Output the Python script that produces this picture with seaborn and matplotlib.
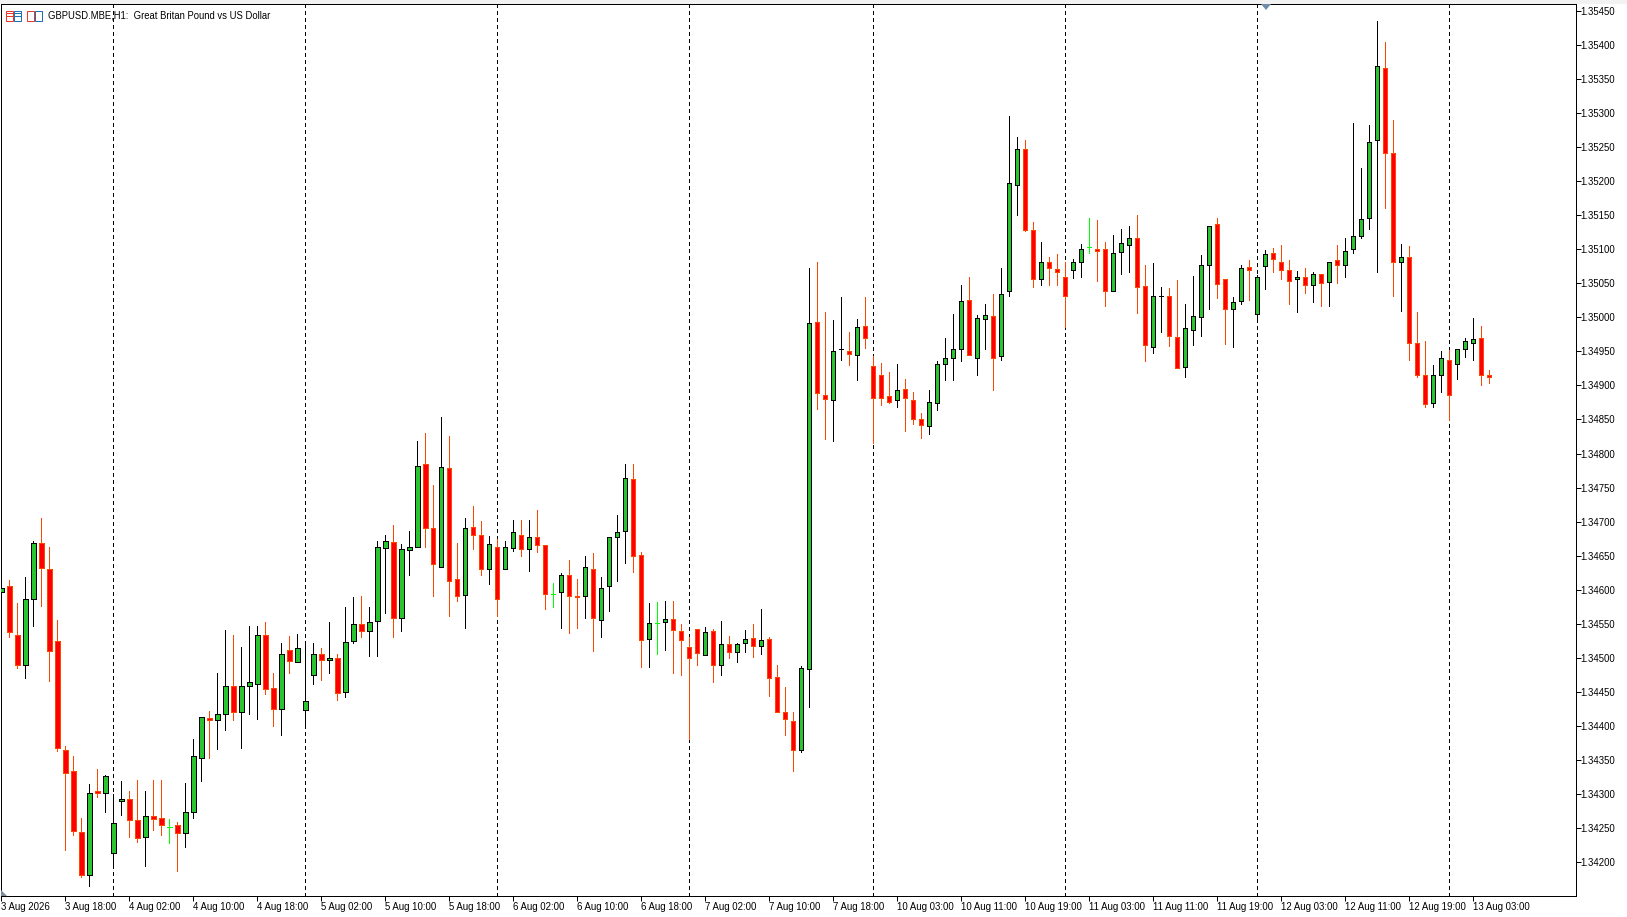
import numpy as np
import pandas as pd
import matplotlib
matplotlib.use('Agg')
import matplotlib.pyplot as plt
from matplotlib.patches import Rectangle, Polygon
import seaborn as sns

# GBPUSD H1 candles
opens = [
 1.34596,1.34605,1.34533,1.34489,1.34586,1.34668,1.34631,1.34524,1.34365,1.34333,
 1.34244,1.34181,1.34304,1.34301,1.34213,1.34289,1.34293,1.34261,1.34236,1.34267,
 1.34264,1.34252,1.34254,1.34242,1.34273,1.34352,1.34412,1.34408,1.34418,1.34458,
 1.34421,1.34458,1.34461,1.34533,1.34455,1.34424,1.34512,1.34493,1.34423,1.34474,
 1.34505,1.34496,1.34499,1.34449,1.34524,1.34549,1.34539,1.34554,1.34661,1.34670,
 1.34558,1.34658,1.34662,1.34784,1.34690,1.34634,1.34778,1.34615,1.34592,1.34692,
 1.34681,1.34630,1.34662,1.34631,1.34661,1.34681,1.34659,1.34678,1.34665,1.34593,
 1.34596,1.34621,1.34590,1.34590,1.34631,1.34555,1.34605,1.34678,1.34686,1.34763,
 1.34651,1.34527,1.34551,1.34552,1.34557,1.34539,1.34516,1.34542,1.34504,1.34539,
 1.34489,1.34520,1.34508,1.34522,1.34529,1.34517,1.34527,1.34472,1.34420,1.34407,
 1.34365,1.34483,1.34993,1.34886,1.34878,1.34953,1.34951,1.34944,1.34988,1.34928,
 1.34916,1.34884,1.34878,1.34895,1.34879,1.34850,1.34841,1.34874,1.34931,1.34940,
 1.34953,1.35025,1.34941,1.34997,1.35002,1.34943,1.35038,1.35195,1.35248,1.35129,
 1.35057,1.35082,1.35071,1.35059,1.35069,1.35082,1.35103,1.35101,1.35100,1.35038,
 1.35096,1.35107,1.35116,1.35046,1.34956,1.35031,1.35032,1.34971,1.34927,1.34982,
 1.35000,1.35077,1.35137,1.35057,1.35013,1.35024,1.35074,1.35005,1.35075,1.35094,
 1.35082,1.35069,1.35056,1.35059,1.35047,1.35063,1.35052,1.35084,1.35077,1.35100,
 1.35119,1.35146,1.35260,1.35367,1.35241,1.35082,1.35088,1.34963,1.34916,1.34874,
 1.34915,1.34937,1.34931,1.34953,1.34963,1.34969,1.34916]
closes = [
 1.34603,1.34538,1.34490,1.34587,1.34668,1.34632,1.34510,1.34367,1.34330,1.34245,
 1.34181,1.34302,1.34302,1.34326,1.34257,1.34292,1.34261,1.34235,1.34268,1.34263,
 1.34254,1.34252,1.34242,1.34274,1.34355,1.34413,1.34408,1.34417,1.34458,1.34420,
 1.34459,1.34464,1.34533,1.34454,1.34424,1.34505,1.34495,1.34515,1.34436,1.34505,
 1.34496,1.34499,1.34448,1.34523,1.34549,1.34540,1.34552,1.34662,1.34671,1.34558,
 1.34659,1.34662,1.34781,1.34690,1.34637,1.34780,1.34612,1.34590,1.34690,1.34681,
 1.34631,1.34667,1.34586,1.34662,1.34684,1.34659,1.34678,1.34665,1.34593,1.34593,
 1.34621,1.34590,1.34589,1.34634,1.34558,1.34603,1.34677,1.34684,1.34764,1.34649,
 1.34526,1.34551,1.34551,1.34557,1.34541,1.34526,1.34500,1.34507,1.34538,1.34489,
 1.34520,1.34509,1.34520,1.34527,1.34517,1.34526,1.34470,1.34420,1.34410,1.34364,
 1.34485,1.34991,1.34889,1.34880,1.34951,1.34954,1.34946,1.34986,1.34969,1.34881,
 1.34882,1.34876,1.34894,1.34881,1.34851,1.34842,1.34875,1.34931,1.34941,1.34953,
 1.35024,1.34944,1.34999,1.35003,1.34940,1.35035,1.35198,1.35248,1.35129,1.35057,
 1.35081,1.35072,1.35066,1.35032,1.35082,1.35100,1.35103,1.35098,1.35038,1.35094,
 1.35109,1.35116,1.35044,1.34959,1.35032,1.35032,1.34972,1.34925,1.34984,1.35002,
 1.35077,1.35134,1.35049,1.35013,1.35022,1.35072,1.35069,1.35060,1.35093,1.35085,
 1.35069,1.35054,1.35060,1.35047,1.35063,1.35050,1.35081,1.35077,1.35098,1.35120,
 1.35144,1.35257,1.35369,1.35242,1.35082,1.35088,1.34963,1.34916,1.34872,1.34916,
 1.34941,1.34886,1.34953,1.34965,1.34968,1.34915,1.34913]
highs = [
 1.34603,1.34614,1.34580,1.34619,1.34671,1.34705,1.34663,1.34555,1.34370,1.34356,
 1.34265,1.34315,1.34337,1.34328,1.34300,1.34319,1.34304,1.34320,1.34304,1.34320,
 1.34320,1.34263,1.34259,1.34316,1.34381,1.34413,1.34422,1.34478,1.34541,1.34533,
 1.34516,1.34547,1.34547,1.34552,1.34478,1.34522,1.34532,1.34535,1.34518,1.34522,
 1.34514,1.34553,1.34506,1.34575,1.34589,1.34591,1.34575,1.34672,1.34681,1.34695,
 1.34667,1.34686,1.34818,1.34830,1.34754,1.34854,1.34826,1.34669,1.34705,1.34723,
 1.34701,1.34679,1.34675,1.34672,1.34702,1.34702,1.34702,1.34717,1.34665,1.34610,
 1.34625,1.34644,1.34616,1.34650,1.34654,1.34619,1.34677,1.34710,1.34784,1.34784,
 1.34656,1.34580,1.34582,1.34584,1.34584,1.34549,1.34530,1.34542,1.34545,1.34542,
 1.34554,1.34532,1.34522,1.34541,1.34550,1.34571,1.34530,1.34490,1.34457,1.34421,
 1.34488,1.35073,1.35081,1.35008,1.34996,1.35030,1.34978,1.34997,1.35030,1.34943,
 1.34933,1.34919,1.34931,1.34909,1.34891,1.34860,1.34893,1.34936,1.34970,1.35005,
 1.35048,1.35059,1.35003,1.35020,1.35034,1.35073,1.35296,1.35265,1.35261,1.35140,
 1.35111,1.35089,1.35093,1.35081,1.35086,1.35108,1.35146,1.35143,1.35111,1.35121,
 1.35130,1.35134,1.35150,1.35077,1.35080,1.35045,1.35043,1.35055,1.35020,1.35061,
 1.35092,1.35134,1.35146,1.35057,1.35030,1.35077,1.35084,1.35062,1.35099,1.35102,
 1.35106,1.35084,1.35068,1.35073,1.35067,1.35063,1.35082,1.35106,1.35117,1.35286,
 1.35219,1.35283,1.35435,1.35405,1.35290,1.35108,1.35105,1.35008,1.34965,1.34930,
 1.34951,1.34952,1.34953,1.34970,1.34999,1.34987,1.34923]
lows = [
 1.34596,1.34531,1.34485,1.34470,1.34546,1.34576,1.34466,1.34363,1.34217,1.34240,
 1.34178,1.34164,1.34296,1.34274,1.34196,1.34269,1.34236,1.34230,1.34194,1.34247,
 1.34240,1.34228,1.34186,1.34222,1.34264,1.34319,1.34352,1.34366,1.34394,1.34408,
 1.34368,1.34418,1.34410,1.34447,1.34400,1.34387,1.34478,1.34493,1.34397,1.34462,
 1.34468,1.34478,1.34438,1.34443,1.34521,1.34530,1.34503,1.34502,1.34565,1.34530,
 1.34540,1.34621,1.34662,1.34662,1.34590,1.34634,1.34562,1.34584,1.34543,1.34659,
 1.34621,1.34609,1.34561,1.34631,1.34657,1.34649,1.34628,1.34656,1.34572,1.34575,
 1.34543,1.34537,1.34543,1.34559,1.34510,1.34531,1.34569,1.34612,1.34639,1.34626,
 1.34486,1.34486,1.34505,1.34512,1.34477,1.34475,1.34380,1.34489,1.34504,1.34465,
 1.34475,1.34499,1.34494,1.34509,1.34501,1.34506,1.34444,1.34420,1.34386,1.34333,
 1.34362,1.34428,1.34866,1.34821,1.34818,1.34937,1.34930,1.34908,1.34955,1.34816,
 1.34871,1.34874,1.34868,1.34833,1.34843,1.34823,1.34828,1.34864,1.34908,1.34908,
 1.34936,1.34944,1.34916,1.34953,1.34894,1.34938,1.35032,1.35151,1.35127,1.35044,
 1.35048,1.35047,1.35047,1.34986,1.35058,1.35060,1.35095,1.35054,1.35017,1.35038,
 1.35063,1.35066,1.35007,1.34936,1.34947,1.34979,1.34958,1.34925,1.34913,1.34960,
 1.34972,1.35013,1.35029,1.34961,1.34956,1.35019,1.35025,1.34999,1.35041,1.35067,
 1.35057,1.35019,1.35008,1.35036,1.35023,1.35016,1.35016,1.35050,1.35060,1.35094,
 1.35116,1.35130,1.35066,1.35161,1.35032,1.35010,1.34938,1.34913,1.34869,1.34869,
 1.34891,1.34849,1.34909,1.34942,1.34938,1.34900,1.34904]

time_labels = ['3 Aug 2026', '3 Aug 18:00', '4 Aug 02:00', '4 Aug 10:00', '4 Aug 18:00',
               '5 Aug 02:00', '5 Aug 10:00', '5 Aug 18:00', '6 Aug 02:00', '6 Aug 10:00',
               '6 Aug 18:00', '7 Aug 02:00', '7 Aug 10:00', '7 Aug 18:00', '10 Aug 03:00',
               '10 Aug 11:00', '10 Aug 19:00', '11 Aug 03:00', '11 Aug 11:00', '11 Aug 19:00',
               '12 Aug 03:00', '12 Aug 11:00', '12 Aug 19:00', '13 Aug 03:00']
price_ticks = [1.342, 1.3425, 1.343, 1.3435, 1.344, 1.3445, 1.345, 1.3455, 1.346, 1.3465, 1.347,
               1.3475, 1.348, 1.3485, 1.349, 1.3495, 1.35, 1.3505, 1.351, 1.3515, 1.352, 1.3525,
               1.353, 1.3535, 1.354, 1.3545]
day_starts = [14, 38, 62, 86, 109, 133, 157, 181]   # bar number of each midnight
title = 'GBPUSD.MBE,H1:  Great Britan Pound vs US Dollar'

df = pd.DataFrame({'open': opens, 'high': highs, 'low': lows, 'close': closes})
df['bar'] = df.index
df['side'] = np.where(df['close'] > df['open'], 'up', np.where(df['close'] < df['open'], 'down', 'flat'))

sns.set_style('white')
plt.rcParams['font.family'] = ['Liberation Sans']
plt.rcParams['font.size'] = 6.9

fig = plt.figure(figsize=(16.27, 9.17), dpi=100)
fig.patch.set_facecolor('white')
W, H = 1627, 917
ax = fig.add_axes([1 / W, (H - 896) / H, (1575.5 - 1) / W, (896 - 4) / H])
fig.add_artist(Rectangle((0, (H - 4) / H), 1, 4 / H, transform=fig.transFigure, color='#F2F2F2', lw=0))

wick_colors = {'up': 'black', 'down': '#FF4500', 'flat': '#00FF00'}
fill_colors = {'up': '#2BC431', 'down': '#FF0000', 'flat': '#00FF00'}

# wicks, one line per bar
wicks = df.melt(id_vars=['bar', 'side'], value_vars=['high', 'low'], value_name='price')
sns.lineplot(data=wicks, x='bar', y='price', units='bar', hue='side', palette=wick_colors,
             estimator=None, sort=False, legend=False, lw=0.72, antialiased=False,
             solid_capstyle='butt', zorder=2, ax=ax)

# bodies
ax.bar(df['bar'], df['close'] - df['open'], bottom=df['open'], width=0.56,
       color=df['side'].map(fill_colors), edgecolor=df['side'].map(wick_colors),
       linewidth=0.72, antialiased=False, zorder=3)

for d in day_starts:
    ax.axvline(d, color='black', lw=0.72, ls=(0, (3, 3)), antialiased=False, zorder=1)

ax.set_xlim(-0.04, 196.8)
ax.set_ylim(1.3415, 1.354603)
ax.set_xlabel('')
ax.set_ylabel('')

ax.yaxis.tick_right()
ax.set_yticks(price_ticks)
ax.set_yticklabels(['%.5f' % p for p in price_ticks])
ax.set_xticks(np.arange(len(time_labels)) * 8)
ax.set_xticklabels(time_labels, ha='left')
ax.tick_params(axis='x', length=3.4, width=0.72, color='black', labelcolor='black',
               labelsize=6.9, pad=1.1, bottom=True)
ax.tick_params(axis='y', length=3.4, width=0.72, color='black', labelcolor='black',
               labelsize=6.9, pad=0.2, right=True, left=False)
for s in ax.spines.values():
    s.set_visible(True)
    s.set_color('black')
    s.set_linewidth(0.72)

fig.text(48 / W, 1 - 16 / H, title, fontsize=6.85, color='black', va='center', ha='left')

# the two little icons before the title
for x0, c in [(6, '#E8392B'), (14, '#1F6FB5'), (27, '#E8392B'), (35, '#1F6FB5')]:
    fig.add_artist(Rectangle((x0 / W, 1 - 21 / H), 7 / W, 10 / H, transform=fig.transFigure,
                             fill=False, ec=c, lw=0.72))
for x0, c in [(6, '#E8392B'), (14, '#1F6FB5')]:
    for yy in (14, 17):
        fig.add_artist(Rectangle((x0 / W, 1 - yy / H), 7 / W, 0.7 / H, transform=fig.transFigure, color=c, lw=0))

# shift marker on the top edge and corner marker bottom left
fig.add_artist(Polygon([(1261 / W, 1 - 4 / H), (1271 / W, 1 - 4 / H), (1266 / W, 1 - 10 / H)],
                       transform=fig.transFigure, color='#6E8CA8', lw=0, zorder=10))
fig.add_artist(Polygon([(1 / W, 1 - 890 / H), (1 / W, 1 - 896 / H), (7 / W, 1 - 896 / H)],
                       transform=fig.transFigure, color='#7F8C99', lw=0, zorder=10))

fig.savefig('out.png', dpi=100)
